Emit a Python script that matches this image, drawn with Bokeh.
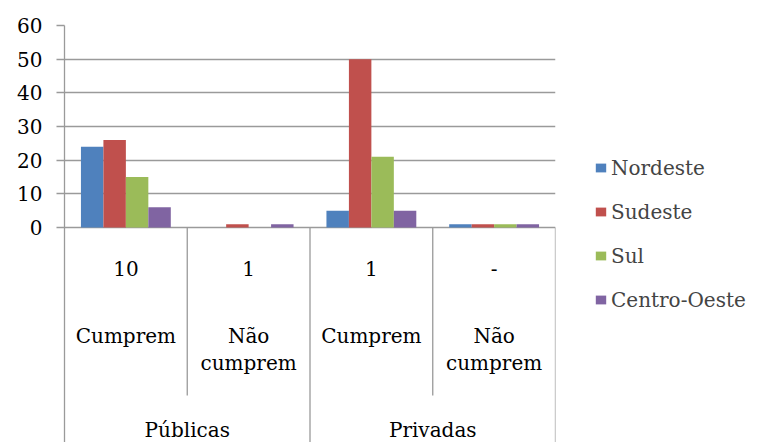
from bokeh.plotting import figure
from bokeh.models import Range1d, FixedTicker, Legend, LegendItem, ColumnDataSource
from bokeh.transform import dodge
from bokeh.core.properties import value
from bokeh.embed import file_html
from bokeh.resources import INLINE

# ---- data ----
groups = ["Públicas", "Privadas"]
conditions = ["Cumprem", "Não cumprem", "Cumprem", "Não cumprem"]
counts = ["10", "1", "1", "-"]
series = ["Nordeste", "Sudeste", "Sul", "Centro-Oeste"]
nordeste = [24, 0, 5, 1]
sudeste = [26, 1, 50, 1]
sul = [15, 0, 21, 1]
centro_oeste = [6, 1, 5, 1]
y_ticks = [0, 10, 20, 30, 40, 50, 60]

colors = ["#4F81BD", "#C0504D", "#9BBB59", "#8064A2"]
FONT = "DejaVu Serif"
FS = "20px"
GRAY = "#9a9a9a"

n = len(conditions)
xc = [i + 0.5 for i in range(n)]
src = ColumnDataSource(dict(x=xc, Nordeste=nordeste, Sudeste=sudeste, Sul=sul,
                            **{"Centro-Oeste": centro_oeste}))

p = figure(frame_width=491, frame_height=417, output_backend="svg", toolbar_location=None,
           x_range=Range1d(0, n), y_range=Range1d(-63.86, 60), x_axis_type=None,
           min_border_left=64, min_border_top=25, min_border_bottom=0, min_border_right=0)
p.outline_line_color = None
p.xgrid.visible = False
p.ygrid.ticker = FixedTicker(ticks=y_ticks)
p.ygrid.grid_line_color = GRAY
p.ygrid.grid_line_width = 1.3

ax = p.yaxis[0]
ax.ticker = FixedTicker(ticks=y_ticks)
ax.axis_line_color = GRAY
ax.axis_line_width = 1.3
ax.major_tick_line_color = GRAY
ax.major_tick_line_width = 1.3
ax.major_tick_out = 8
ax.major_tick_in = 0
ax.minor_tick_line_color = None
ax.major_label_standoff = 14
ax.major_label_text_font = FONT
ax.major_label_text_font_size = FS
ax.major_label_text_color = "black"

w = 0.183
offsets = [-1.5 * w, -0.5 * w, 0.5 * w, 1.5 * w]
items = []
for s, c, off in zip(series, colors, offsets):
    r = p.vbar(x=dodge("x", off, range=p.x_range), top=s, width=w, bottom=0, source=src,
               fill_color=c, line_color=None)
    items.append(LegendItem(label=s, renderers=[r]))

# multi-level category axis drawn below zero
bottom = -63.86
inner_x = [i for i in range(1, n) if i % 2 == 1]
outer_x = [i for i in range(2, n + 1, 2)]
p.segment(x0=inner_x, y0=[0] * len(inner_x), x1=inner_x, y1=[-49.9] * len(inner_x),
          line_color=GRAY, line_width=1.3)
p.segment(x0=outer_x, y0=[0] * len(outer_x), x1=outer_x, y1=[bottom] * len(outer_x),
          line_color=GRAY, line_width=1.3)

p.text(x=xc, y=[-12.2] * n, text=counts, text_font=value(FONT), text_font_size=FS,
       text_align="center", text_baseline="middle", text_color="black")
row1 = [c.split(" ")[0] for c in conditions]
row2 = [" ".join(c.split(" ")[1:]) for c in conditions]
p.text(x=xc, y=[-32.1] * n, text=row1, text_font=value(FONT), text_font_size=FS,
       text_align="center", text_baseline="middle", text_color="black")
p.text(x=xc, y=[-40.1] * n, text=row2, text_font=value(FONT), text_font_size=FS,
       text_align="center", text_baseline="middle", text_color="black")
gx = [2 * i + 1 for i in range(len(groups))]
p.text(x=gx, y=[-60.0] * len(groups), text=groups, text_font=value(FONT), text_font_size=FS,
       text_align="center", text_baseline="middle", text_color="black")

legend = Legend(items=items, location="center_left", margin=39, padding=10,
                border_line_color=None, background_fill_alpha=0,
                label_text_font=FONT, label_text_font_size=FS,
                glyph_width=13, glyph_height=11, label_standoff=4,
                label_height=22, spacing=20)
p.add_layout(legend, "right")

open("out.html", "w").write(file_html(p, INLINE))
